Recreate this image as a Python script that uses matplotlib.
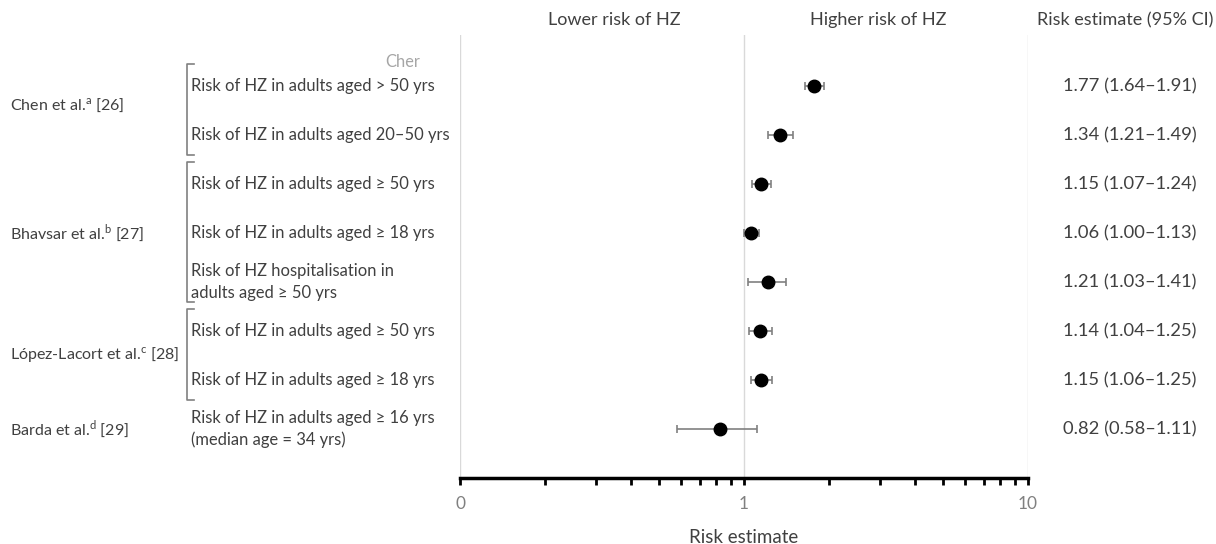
import matplotlib.pyplot as plt
from matplotlib.ticker import FixedLocator, LogLocator, NullFormatter

plt.rcParams['font.family'] = ['Lato', 'DejaVu Sans']
plt.rcParams['mathtext.fontset'] = 'custom'
plt.rcParams['mathtext.rm'] = 'Lato'

# -------------------------
# DATA
# -------------------------

studies = [
    'Chen et al.$^{\\mathrm{a}}$ [26]',
    'Bhavsar et al.$^{\\mathrm{b}}$ [27]',
    'López-Lacort et al.$^{\\mathrm{c}}$ [28]',
    'Barda et al.$^{\\mathrm{d}}$ [29]',
]
study_rows = [[0, 1], [2, 3, 4], [5, 6], [7]]

row_labels = [
    'Risk of HZ in adults aged > 50 yrs',
    'Risk of HZ in adults aged 20–50 yrs',
    'Risk of HZ in adults aged ≥ 50 yrs',
    'Risk of HZ in adults aged ≥ 18 yrs',
    'Risk of HZ hospitalisation in\nadults aged ≥ 50 yrs',
    'Risk of HZ in adults aged ≥ 50 yrs',
    'Risk of HZ in adults aged ≥ 18 yrs',
    'Risk of HZ in adults aged ≥ 16 yrs\n(median age = 34 yrs)',
]
estimates = [1.77, 1.34, 1.15, 1.06, 1.21, 1.14, 1.15, 0.82]
ci_low = [1.64, 1.21, 1.07, 1.00, 1.03, 1.04, 1.06, 0.58]
ci_high = [1.91, 1.49, 1.24, 1.13, 1.41, 1.25, 1.25, 1.11]

TEXT = '#404040'
GREY = '#808080'

# -------------------------
# FIGURE
# -------------------------

fig = plt.figure(figsize=(12.16, 5.44), dpi=100)
ax = fig.add_axes([460 / 1216, 1 - 478 / 544, 568 / 1216, 443 / 544])

ys = list(range(len(estimates)))
err = [[e - l for e, l in zip(estimates, ci_low)],
       [h - e for e, h in zip(estimates, ci_high)]]

ax.errorbar(
    estimates, ys, xerr=err,
    fmt='o', color='black', markersize=9,
    ecolor=GREY, elinewidth=1.2, capsize=3, capthick=1.2,
    zorder=3
)

ax.set_xscale('log')
ax.set_xlim(0.1, 10)
ax.set_ylim(len(estimates) - 1 + 1.0, -1.04)

ax.xaxis.set_major_locator(FixedLocator([0.1, 1, 10]))
ax.xaxis.set_minor_locator(LogLocator(base=10, subs=range(2, 10)))
ax.xaxis.set_minor_formatter(NullFormatter())
ax.set_xticklabels(['0', '1', '10'])
ax.tick_params(axis='x', which='both', direction='out', length=5,
               width=2, color='black', labelcolor=GREY, labelsize=12.5, pad=8)
ax.set_yticks([])

ax.grid(True, axis='x', which='major', color='#d9d9d9', linewidth=1)
ax.set_axisbelow(True)

for s in ['top', 'left', 'right']:
    ax.spines[s].set_visible(False)
ax.spines['bottom'].set_linewidth(2.5)

ax.set_xlabel('Risk estimate', fontsize=13.5, color=TEXT, labelpad=12)

# -------------------------
# LEFT TEXT
# -------------------------

trans = ax.get_yaxis_transform()  # x in axes coords, y in data


def fig_x(px):
    return (px - 460) / 568


for y, lab in zip(ys, row_labels):
    ax.text(fig_x(191), y, lab, transform=trans, ha='left', va='center',
            fontsize=11.9, color=TEXT, linespacing=1.4, clip_on=False)

for name, rows in zip(studies, study_rows):
    yc = sum(rows) / len(rows)
    if len(rows) == 2 and rows[0] == 0:
        yc -= 0.12
    ax.text(fig_x(10), yc, name, transform=trans, ha='left', va='center',
            fontsize=11.5, color=TEXT, clip_on=False)
    if len(rows) > 1:
        top = rows[0] - 0.45
        bot = rows[-1] + 0.41
        ax.plot([fig_x(194), fig_x(187), fig_x(187), fig_x(194)],
                [top, top, bot, bot], transform=trans,
                color=GREY, linewidth=1.2, clip_on=False)

ax.text(fig_x(385), -0.49, 'Cher', transform=trans, ha='left', va='center',
        fontsize=11.9, color='#a6a6a6', clip_on=False)

# -------------------------
# RIGHT TEXT
# -------------------------

for y, e, l, h in zip(ys, estimates, ci_low, ci_high):
    ax.text(fig_x(1130), y, f'{e:.2f} ({l:.2f}–{h:.2f})', transform=trans,
            ha='center', va='center', fontsize=13.2, color=TEXT, clip_on=False)

# HEADERS
fig.text(614 / 1216, 1 - 20 / 544, 'Lower risk of HZ', ha='center', va='center',
         fontsize=13, color=TEXT)
fig.text(878 / 1216, 1 - 20 / 544, 'Higher risk of HZ', ha='center', va='center',
         fontsize=13, color=TEXT)
fig.text(1125 / 1216, 1 - 20 / 544, 'Risk estimate (95% CI)', ha='center', va='center',
         fontsize=13, color=TEXT)

fig.savefig('out.png', dpi=100)
